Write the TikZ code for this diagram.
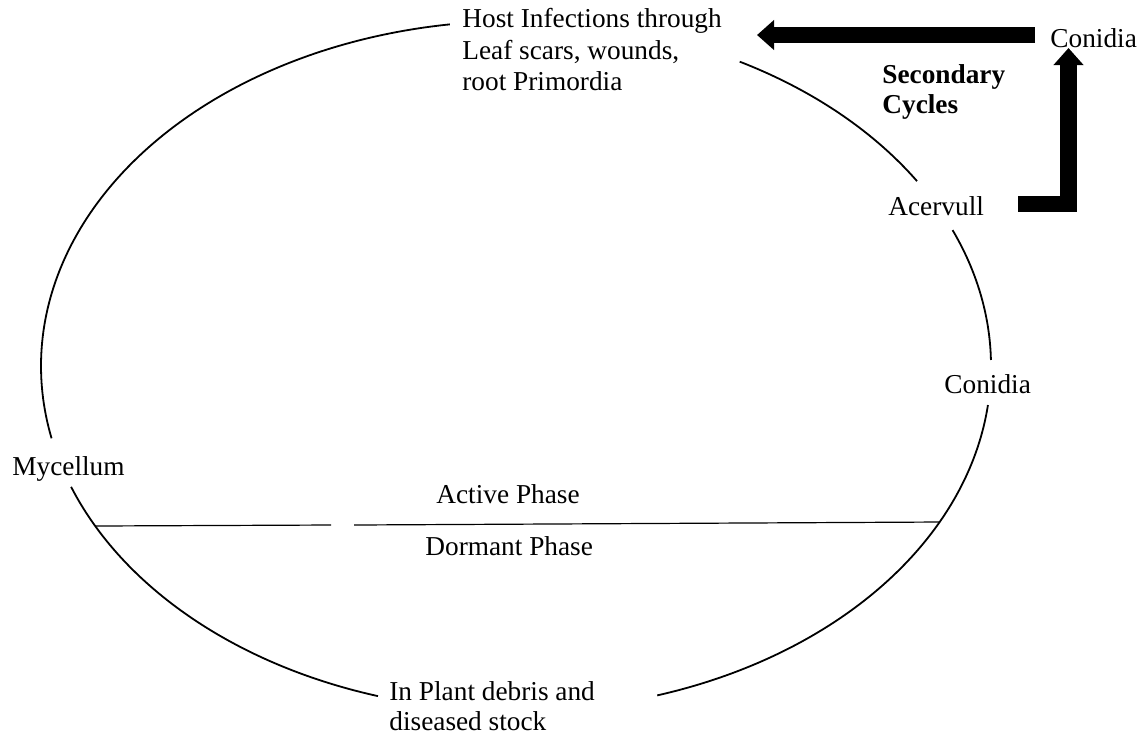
\documentclass[tikz,border=0pt]{standalone}
\usepackage{fontspec}
\setmainfont{Liberation Serif}
\usetikzlibrary{arrows.meta}
\begin{document}
\begin{tikzpicture}[x=0.5pt,y=-0.5pt,
  lbl/.style={inner sep=0pt, font=\fontsize{13.65}{15.75}\selectfont},
  lbltight/.style={inner sep=0pt, font=\fontsize{13.65}{15}\selectfont},
  cyc/.style={line width=0.9pt},
  divider/.style={line width=0.6pt},
  fatarrow/.style={line width=8.3pt, line join=miter,
    -{Triangle[length=8.5pt,width=14.5pt]}}]
\useasboundingbox (0,0) rectangle (1140,736);

% labels around the cycle
\node[lbl, anchor=north west, align=left] (host) at (462,8)
  {Host Infections through\\Leaf scars, wounds,\\root Primordia};
\node[lbl, anchor=base west] (conT) at (1050,47) {Conidia};
\node[lbltight, anchor=north west, align=left, font=\fontsize{13.65}{15}\selectfont\bfseries] (sec) at (882,64)
  {Secondary\\Cycles};
\node[lbl, anchor=base west] (acer) at (888,215) {Acervull};
\node[lbl, anchor=base west] (conR) at (944,393) {Conidia};
\node[lbl, anchor=base west] (myc) at (12,475) {Mycellum};
\node[lbl, anchor=base west] (act) at (436,503) {Active Phase};
\node[lbl, anchor=base west] (dor) at (425,555) {Dormant Phase};
\node[lbltight, anchor=north west, align=left] (deb) at (389,681)
  {In Plant debris and\\diseased stock};

% the disease cycle: an ellipse broken where the labels sit
\coordinate (ctr) at (516,366);
\draw[cyc] (ctr) ++(6.5:475 and 345)
  arc[start angle=6.5, end angle=72.7, x radius=475, y radius=345];
\draw[cyc] (ctr) ++(106.9:475 and 345)
  arc[start angle=106.9, end angle=159.5, x radius=475, y radius=345];
\draw[cyc] (ctr) ++(167.9:475 and 345)
  arc[start angle=167.9, end angle=262, x radius=475, y radius=345];
\draw[cyc] (ctr) ++(298.1:475 and 345)
  arc[start angle=298.1, end angle=327.6, x radius=475, y radius=345];
\draw[cyc] (ctr) ++(336.8:475 and 345)
  arc[start angle=336.8, end angle=359, x radius=475, y radius=345];

% active / dormant divider
\coordinate (divL) at (95,526);
\coordinate (gapL) at (331,525);
\coordinate (gapR) at (354,525);
\coordinate (divR) at (940,522);
\draw[divider] (divL) -- (gapL);
\draw[divider] (gapR) -- (divR);

% secondary cycles
\coordinate (hA) at (1035,35);
\coordinate (hB) at (757,35);
\draw[fatarrow] (hA) -- (hB);
\coordinate (vA) at (1018,204);
\coordinate (vK) at (1068.5,204);
\coordinate (vB) at (1068.5,48);
\draw[fatarrow] (vA) -- (vK) -- (vB);
\end{tikzpicture}
\end{document}
